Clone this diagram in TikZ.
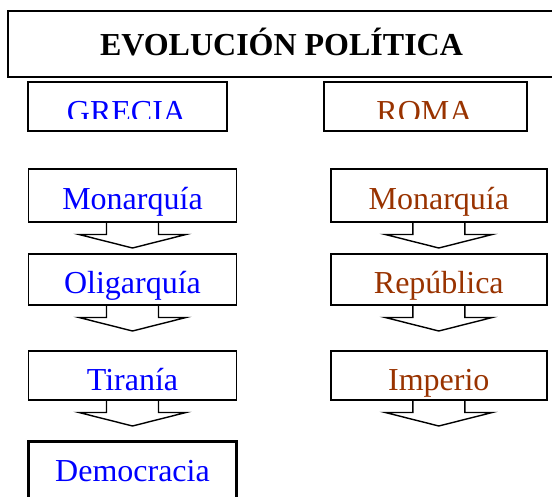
\documentclass[tikz,border=0pt]{standalone}
\usepackage{fontspec}
\setmainfont{Liberation Serif}
\usetikzlibrary{calc}
\definecolor{greekblue}{RGB}{0,0,255}
\definecolor{romanbrown}{RGB}{153,51,0}
\newcommand\blockarrow[1]{%
  \draw[arrowline] ($(#1.south)+(-26,0)$) -- ++(0,12.5) -- ++(-27.5,0)
    -- ($(#1.south)+(0,26)$) -- ($(#1.south)+(53.5,12.5)$) -- ++(-27.5,0)
    -- ($(#1.south)+(26,0)$);}
\begin{document}
\begin{tikzpicture}[x=1pt,y=-1pt,
  every node/.style={inner sep=0pt, outer sep=0pt},
  txt/.style={font=\fontsize{32}{36}\selectfont},
  stage/.style={txt, draw=black, line width=1.5pt, text height=29pt, text depth=0pt},
  gbox/.style={stage, minimum width=208pt, text=greekblue},
  rbox/.style={stage, minimum width=216pt, text=romanbrown},
  headbox/.style={draw=black, line width=2pt, minimum height=49pt},
  arrowline/.style={draw=black, line width=1.4pt, line join=miter}
]
\clip (0,0) rectangle (552,497);
\fill[white] (0,0) rectangle (552,497);

% title
\node[draw=black, line width=2pt, minimum width=560pt, minimum height=66pt,
      text height=22.6pt, text depth=0pt, font=\fontsize{32}{36}\selectfont\bfseries]
  (title) at (287.5,44) {\hspace*{-12pt}EVOLUCIÓN POLÍTICA};

% column headers
\node[headbox, minimum width=199pt] (gh) at (127.5,106.5) {};
\node[headbox, minimum width=203pt] (rh) at (425.5,106.5) {};
\begin{scope}
  \clip (gh.north west) rectangle ($(gh.south east)+(0,-12)$);
  \node[txt, anchor=base, text=greekblue] (ght) at (126.5,123) {GRECIA};
\end{scope}
\begin{scope}
  \clip (rh.north west) rectangle ($(rh.south east)+(0,-12)$);
  \node[txt, anchor=base, text=romanbrown] (rht) at (424.5,123) {ROMA};
\end{scope}

% Grecia
\node[gbox, minimum height=53pt] (g1) at (132.5,195.5) {Monarquía};
\node[gbox, minimum height=51pt] (g2) at (132.5,279.5) {Oligarquía};
\node[gbox, minimum height=49pt] (g3) at (132.5,375.5) {Tiranía};
\node[gbox, minimum height=70pt, line width=3pt, text height=10pt] (g4) at (132.5,476) {Democracia};

% Roma
\node[rbox, minimum height=53pt] (r1) at (438.8,195.5) {Monarquía};
\node[rbox, minimum height=51pt] (r2) at (438.8,279.5) {República};
\node[rbox, minimum height=49pt] (r3) at (438.8,375.5) {Imperio};

% block arrows
\blockarrow{g1}
\blockarrow{g2}
\blockarrow{g3}
\blockarrow{r1}
\blockarrow{r2}
\blockarrow{r3}
\end{tikzpicture}
\end{document}
